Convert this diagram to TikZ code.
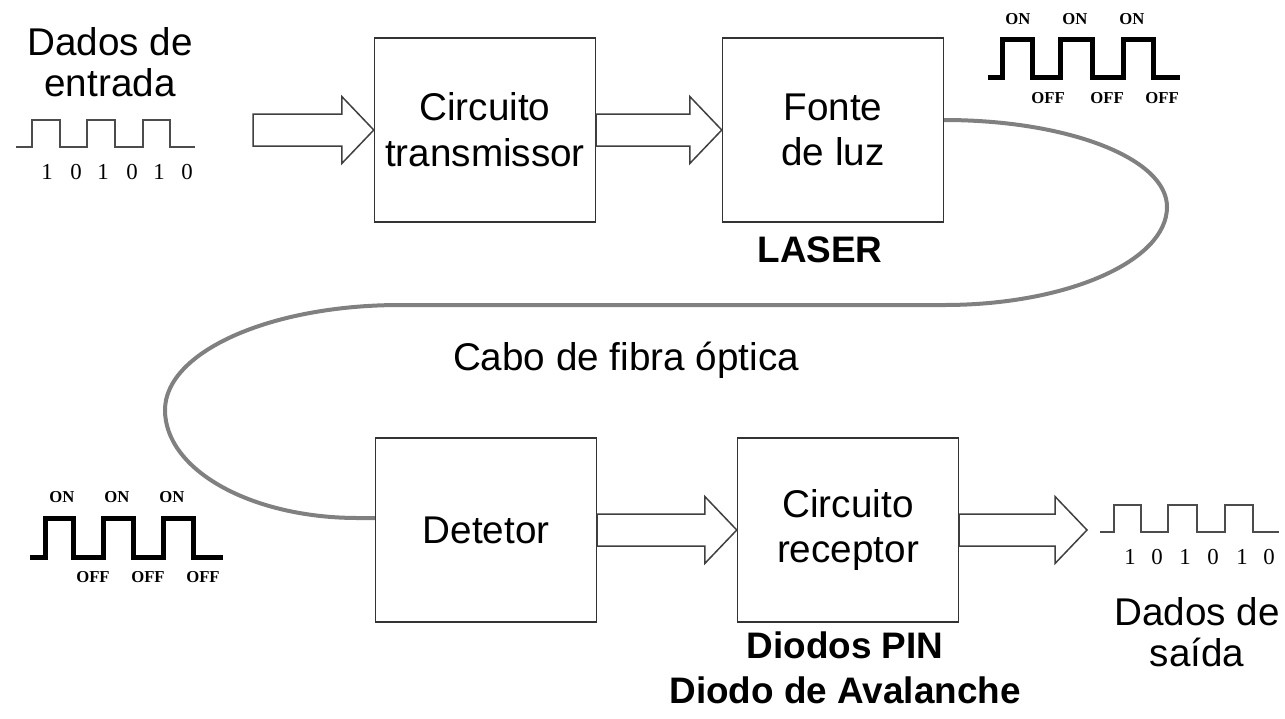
\documentclass[tikz,border=0pt]{standalone}
\usepackage{fontspec}
\setmainfont{Liberation Sans}
\newfontfamily\timesfont{Liberation Serif}
\usetikzlibrary{calc}

\newcommand{\fatarrow}[2]{%
  \draw[fatarrow] let \p1=(#1), \p2=(#2) in
    (\x1,\y1+0.32cm) -- (\x2-0.64cm,\y1+0.32cm) -- (\x2-0.64cm,\y1+0.67cm)
    -- (\x2,\y1) -- (\x2-0.64cm,\y1-0.67cm) -- (\x2-0.64cm,\y1-0.32cm)
    -- (\x1,\y1-0.32cm) -- cycle;}

\begin{document}
\begin{tikzpicture}[x=0.02cm,y=-0.02cm,
    box/.style={draw=black!80,line width=0.03cm,minimum width=4.42cm,minimum height=3.68cm,
      inner sep=0pt,align=center,font=\fontsize{22}{26}\selectfont},
    fatarrow/.style={draw=black!75,line width=0.03cm,fill=white,line join=miter},
    fiber/.style={draw=black!50,line width=0.08cm},
    thinwave/.style={draw=black!70,line width=0.04cm,line join=miter},
    thickwave/.style={draw=black,line width=0.1cm,line join=miter},
    caption/.style={inner sep=0pt,align=center,font=\fontsize{22}{23}\selectfont},
    boldcap/.style={inner sep=0pt,font=\fontsize{21}{24}\selectfont\bfseries},
    bit/.style={inner sep=0pt,font=\timesfont\fontsize{13}{14}\selectfont},
    onoff/.style={inner sep=0pt,font=\timesfont\fontsize{9.5}{10}\selectfont\bfseries}]

  \path[fill=white] (0,0) rectangle (1285,718);

  \node[box] (tx) at (485,130) {Circuito\\transmissor};
  \node[box] (fonte) at (833,130) {Fonte\\de luz};
  \node[box] (det) at (486,530) {Detetor};
  \node[box] (rx) at (848,530) {Circuito\\receptor};

  \coordinate (inarrow) at (253,130);
  \coordinate (outarrow) at (1087,530);

  \fatarrow{inarrow}{tx.west}
  \fatarrow{tx.east}{fonte.west}
  \fatarrow{det.east}{rx.west}
  \fatarrow{rx.east}{outarrow}

  \draw[fiber] ([yshift=0.2cm]fonte.east) .. controls (1067,120) and (1167,158) .. (1167,207)
    .. controls (1167,261) and (1067,305) .. (944,305) -- (400,305)
    .. controls (270,305) and (165,352) .. (165,410)
    .. controls (165,470) and (251,518) .. (358,518) -- ([yshift=0.24cm]det.west);

  \node[caption] (indata) at (110,62) {Dados de\\entrada};
  \node[caption] (outdata) at (1197,632) {Dados de\\saída};
  \node[caption] (cabo) at (626,360) {Cabo de fibra óptica};
  \node[boldcap] (laser) at (820,250) {LASER};
  \node[boldcap] (pin) at (845,645) {Diodos PIN};
  \node[boldcap] (apd) at (845,690) {Diodo de Avalanche};

  \draw[thinwave] (16,147) -- (32,147) -- (32,120) -- (60,120) -- (60,147) -- (87,147)
    -- (87,120) -- (115,120) -- (115,147) -- (143,147) -- (143,120) -- (170,120) -- (170,147) -- (195,147);
  \foreach \x/\b [count=\i] in {47/1,76/0,103/1,132/0,159/1,187/0}
    \node[bit] (inbit\i) at (\x,172) {\b};

  \draw[thinwave] (1100,532) -- (1114,532) -- (1114,505) -- (1141,505) -- (1141,532) -- (1168,532)
    -- (1168,505) -- (1197,505) -- (1197,532) -- (1225,532) -- (1225,505) -- (1253,505) -- (1253,532) -- (1279,532);
  \foreach \x/\b [count=\i] in {1130/1,1157/0,1185/1,1213/0,1242/1,1269/0}
    \node[bit] (outbit\i) at (\x,557) {\b};

  \draw[thickwave] (988,77) -- (1002,77) -- (1002,39) -- (1032,39) -- (1032,77) -- (1060,77)
    -- (1060,39) -- (1092,39) -- (1092,77) -- (1123,77) -- (1123,39) -- (1153,39) -- (1153,77) -- (1180,77);
  \foreach \x [count=\i] in {1018,1075,1132}
    \node[onoff] (laseron\i) at (\x,19) {ON};
  \foreach \x [count=\i] in {1048,1107,1162}
    \node[onoff] (laseroff\i) at (\x,98) {OFF};

  \draw[thickwave] (30,557) -- (45,557) -- (45,518) -- (73,518) -- (73,557) -- (103,557)
    -- (103,518) -- (133,518) -- (133,557) -- (163,557) -- (163,518) -- (193,518) -- (193,557) -- (223,557);
  \foreach \x [count=\i] in {62,117,172}
    \node[onoff] (deton\i) at (\x,497) {ON};
  \foreach \x [count=\i] in {93,148,203}
    \node[onoff] (detoff\i) at (\x,577) {OFF};
\end{tikzpicture}
\end{document}
